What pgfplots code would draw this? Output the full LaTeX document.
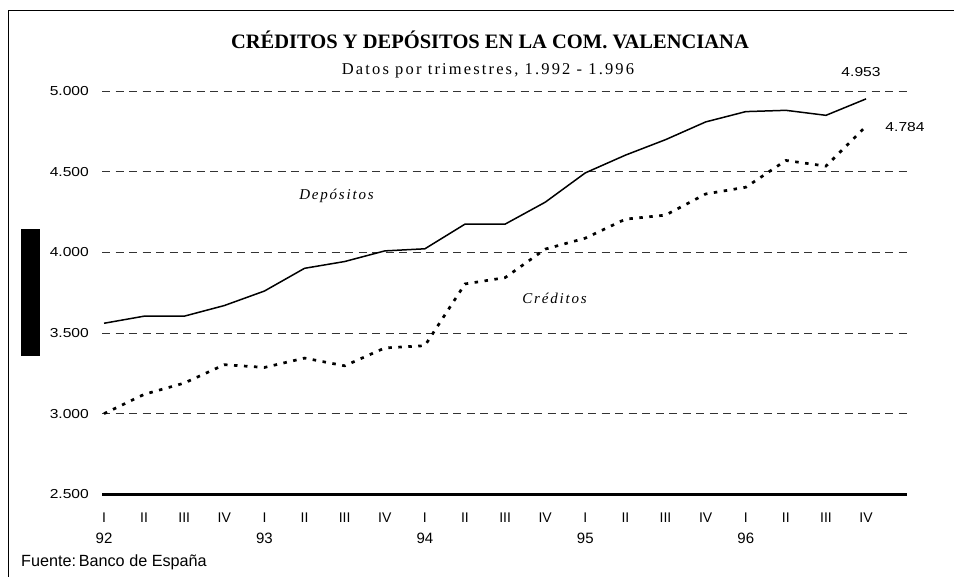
\documentclass[border=0pt]{standalone}
\usepackage{fontspec}
\usepackage{pgfplots}
\pgfplotsset{compat=1.18}
\setmainfont{Liberation Serif}
\newfontfamily\arialS[FakeStretch=1.2]{Liberation Sans}
\newfontfamily\arial{Liberation Sans}
\newfontfamily\spacedserif[LetterSpace=12]{Liberation Serif}
\newfontfamily\subserif[LetterSpace=13]{Liberation Serif}
\tikzset{year/.style={anchor=base, inner sep=0pt, yshift=-49bp, font=\arial\fontsize{15bp}{18bp}\selectfont}}

\begin{document}
\begin{tikzpicture}
\useasboundingbox (0bp,0bp) rectangle (954bp,-577bp);
\draw[line width=1bp] (8bp,-577bp) -- (8bp,-10bp) -- (954bp,-10bp);
\fill (21bp,-229bp) rectangle (40bp,-356bp);
\begin{axis}[
  at={(102bp,-494.3bp)}, anchor=south west, scale only axis,
  width=805bp, height=403bp,
  xmin=-0.05, xmax=20.02, ymin=2500, ymax=5000,
  axis lines=left,
  axis line style={-},
  y axis line style={draw=none},
  x axis line style={line width=3bp},
  major tick length=0pt,
  ytick={2500,3000,...,5000},
  ymajorgrids,
  grid style={dash pattern=on 8bp off 5.5bp, line width=1bp, black!80},
  xtick={0,...,19},
  xticklabels={I,II,III,IV,I,II,III,IV,I,II,III,IV,I,II,III,IV,I,II,III,IV},
  xticklabel style={font=\arial\fontsize{14bp}{17bp}\selectfont, anchor=base, yshift=-28.4bp, inner sep=0pt},
  yticklabel style={font=\arialS\fontsize{13bp}{15bp}\selectfont, anchor=east, inner sep=0pt, xshift=-13bp},
  yticklabel={\pgfmathprintnumber[fixed,1000 sep={.},assume math mode=true]{\tick}},
  clip=false,
]
\addplot[black, line width=1.5bp, mark=none] coordinates {
(0,3561) (1,3605) (2,3605) (3,3671) (4,3761) (5,3902) (6,3944) (7,4010) (8,4023) (9,4176)
(10,4176) (11,4312) (12,4494) (13,4604) (14,4700) (15,4810) (16,4874) (17,4882) (18,4851) (19,4953)};
\addplot[black, line width=2.7bp, dash pattern=on 3.5bp off 6.5bp, mark=none] coordinates {
(0,3000) (1,3120) (2,3190) (3,3304) (4,3287) (5,3345) (6,3297) (7,3408) (8,3422) (9,3805)
(10,3844) (11,4021) (12,4089) (13,4207) (14,4232) (15,4363) (16,4405) (17,4571) (18,4536) (19,4784)};
\node[year] at (axis cs:0,2500) {92};
\node[year] at (axis cs:4,2500) {93};
\node[year] at (axis cs:8,2500) {94};
\node[year] at (axis cs:12,2500) {95};
\node[year] at (axis cs:16,2500) {96};
\end{axis}
\node[anchor=base, inner sep=0pt, font=\bfseries\fontsize{20.5bp}{24bp}\selectfont] at (490bp,-48.3bp) {CRÉDITOS Y DEPÓSITOS EN LA COM. VALENCIANA};
\node[anchor=base, inner sep=0pt, font=\subserif\fontsize{16.5bp}{19bp}\selectfont] at (488bp,-74bp) {Datos por trimestres, 1.992 - 1.996};
\node[anchor=base, inner sep=0pt, font=\arialS\fontsize{13bp}{15bp}\selectfont] at (861bp,-76bp) {4.953};
\node[anchor=base, inner sep=0pt, font=\arialS\fontsize{13bp}{15bp}\selectfont] at (905bp,-131.7bp) {4.784};
\node[anchor=base, inner sep=0pt, font=\spacedserif\itshape\fontsize{15bp}{18bp}\selectfont] at (336.5bp,-199bp) {Depósitos};
\node[anchor=base, inner sep=0pt, font=\spacedserif\itshape\fontsize{15bp}{18bp}\selectfont] at (554.5bp,-303.3bp) {Créditos};
\node[anchor=base west, inner sep=0pt, font=\arial\fontsize{16.2bp}{19bp}\selectfont] at (21bp,-566.7bp) {Fuente:\,Banco de España};
\end{tikzpicture}
\end{document}
